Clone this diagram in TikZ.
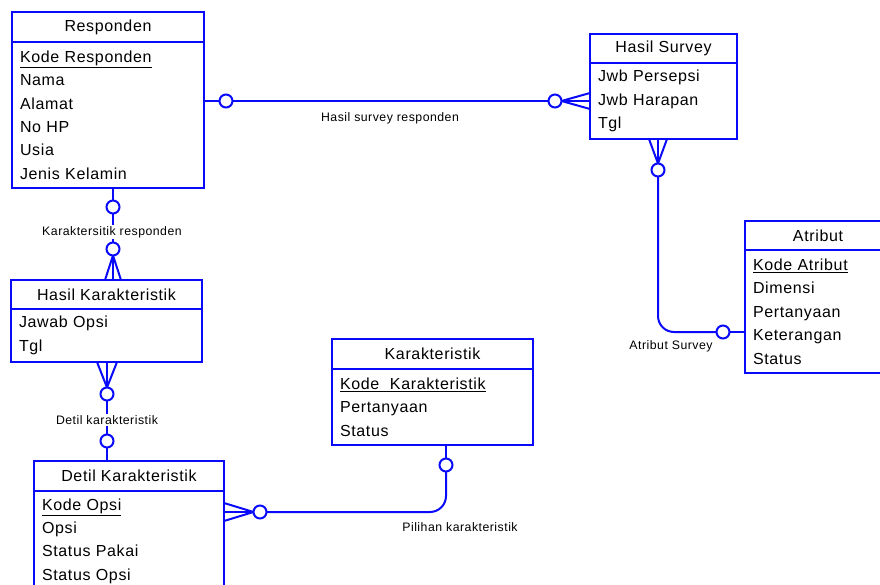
\documentclass[tikz,border=0pt]{standalone}
\usepackage{fontspec}
\setmainfont[LetterSpace=4]{Liberation Sans}
\usepackage{tikz}
\usetikzlibrary{positioning, calc}
\definecolor{erblue}{RGB}{10,10,250}
\tikzset{
  enthead/.style={rectangle, draw=erblue, line width=2pt, anchor=north west,
    inner sep=0pt, outer sep=0pt, font=\fontsize{16}{18}\selectfont},
  entbody/.style={rectangle, draw=erblue, line width=2pt, align=left,
    inner xsep=8pt, inner ysep=0pt, outer sep=0pt,
    font=\fontsize{16}{23.4}\selectfont},
  rel/.style={draw=erblue, line width=2pt},
  opt/.style={circle, draw=erblue, fill=white, line width=2pt,
    minimum size=13pt, inner sep=0pt, outer sep=0pt},
  rellabel/.style={font=\fontsize{12.3}{14}\selectfont, inner sep=1pt}
}

\begin{document}
\begin{tikzpicture}[x=1pt, y=-1pt]
  \useasboundingbox (0,0) rectangle (880,585);
  \clip (0,0) rectangle (880,585);

  % Entities
  \node[enthead, minimum width=192pt, minimum height=30pt] (resp) at (12,12) {Responden};
  \node[entbody, text width=176pt, minimum height=146pt, below=0pt of resp] (respattr)
    {\underline{Kode Responden}\\Nama\\Alamat\\No HP\\Usia\\Jenis Kelamin};

  \node[enthead, minimum width=147pt, minimum height=29pt] (surv) at (590,34) {Hasil Survey};
  \node[entbody, text width=131pt, minimum height=76pt, below=0pt of surv] (survattr)
    {Jwb Persepsi\\Jwb Harapan\\Tgl};

  \node[enthead, minimum width=146pt, minimum height=29pt] (atr) at (745,221) {Atribut};
  \node[entbody, text width=130pt, minimum height=123pt, below=0pt of atr] (atrattr)
    {\underline{Kode Atribut}\\Dimensi\\Pertanyaan\\Keterangan\\Status};

  \node[enthead, minimum width=191pt, minimum height=29pt] (hkar) at (11,280) {Hasil Karakteristik};
  \node[entbody, text width=175pt, minimum height=53pt, below=0pt of hkar] (hkarattr)
    {Jawab Opsi\\Tgl};

  \node[enthead, minimum width=201pt, minimum height=30pt] (kar) at (332,339) {Karakteristik};
  \node[entbody, text width=185pt, minimum height=76pt, below=0pt of kar] (karattr)
    {\underline{Kode\ \ Karakteristik}\\Pertanyaan\\Status};

  \node[enthead, minimum width=190pt, minimum height=30pt] (detil) at (34,461) {Detil Karakteristik};
  \node[entbody, text width=174pt, minimum height=100pt, below=0pt of detil] (detilattr)
    {\underline{Kode Opsi}\\Opsi\\Status Pakai\\Status Opsi};

  % Hasil survey responden
  \node[opt] (rs1) at (226,101) {};
  \node[opt] (rs2) at (555,101) {};
  \draw[rel] (respattr.east |- rs1) -- (rs1) -- (rs2);
  \foreach \d in {-8,0,8}
    \draw[rel] (rs2.east) -- ($(survattr.west |- rs2)+(0,\d)$);
  \node[rellabel] (lblrs) at (390,118) {Hasil survey responden};

  % Karaktersitik responden
  \node[opt] (rk1) at (113,207) {};
  \node[opt] (rk2) at (113,249) {};
  \draw[rel] (respattr.south -| rk1) -- (rk1) -- (rk2);
  \foreach \d in {-8,0,8}
    \draw[rel] (rk2.south) -- ($(hkar.north -| rk2)+(\d,0)$);
  \node[rellabel, fill=white] (lblrk) at (112,232) {Karaktersitik responden};

  % Detil karakteristik
  \node[opt] (kd1) at (107,394) {};
  \node[opt] (kd2) at (107,441) {};
  \foreach \d in {-10,0,10}
    \draw[rel] ($(hkarattr.south -| kd1)+(\d,0)$) -- (kd1.north);
  \draw[rel] (kd1) -- (kd2) -- (detil.north -| kd2);
  \node[rellabel, fill=white] (lblkd) at (107,420) {Detil karakteristik};

  % Pilihan karakteristik
  \node[opt] (pk1) at (260,512) {};
  \node[opt] (pk2) at (446,465) {};
  \foreach \d in {-9,0,9}
    \draw[rel] ($(detilattr.east |- pk1)+(0,\d)$) -- (pk1.west);
  \draw[rel, rounded corners=16pt] (pk1) -- (pk2 |- pk1) -- (pk2);
  \draw[rel] (pk2) -- (karattr.south -| pk2);
  \node[rellabel] (lblpk) at (460,527) {Pilihan karakteristik};

  % Atribut Survey
  \node[opt] (sa1) at (658,170) {};
  \node[opt] (sa2) at (723,332) {};
  \foreach \d in {-9,0,9}
    \draw[rel] ($(survattr.south -| sa1)+(\d,0)$) -- (sa1.north);
  \draw[rel, rounded corners=16pt] (sa1) -- (sa1 |- sa2) -- (sa2);
  \draw[rel] (sa2) -- (atrattr.west |- sa2);
  \node[rellabel] (lblsa) at (671,346) {Atribut Survey};
\end{tikzpicture}
\end{document}
